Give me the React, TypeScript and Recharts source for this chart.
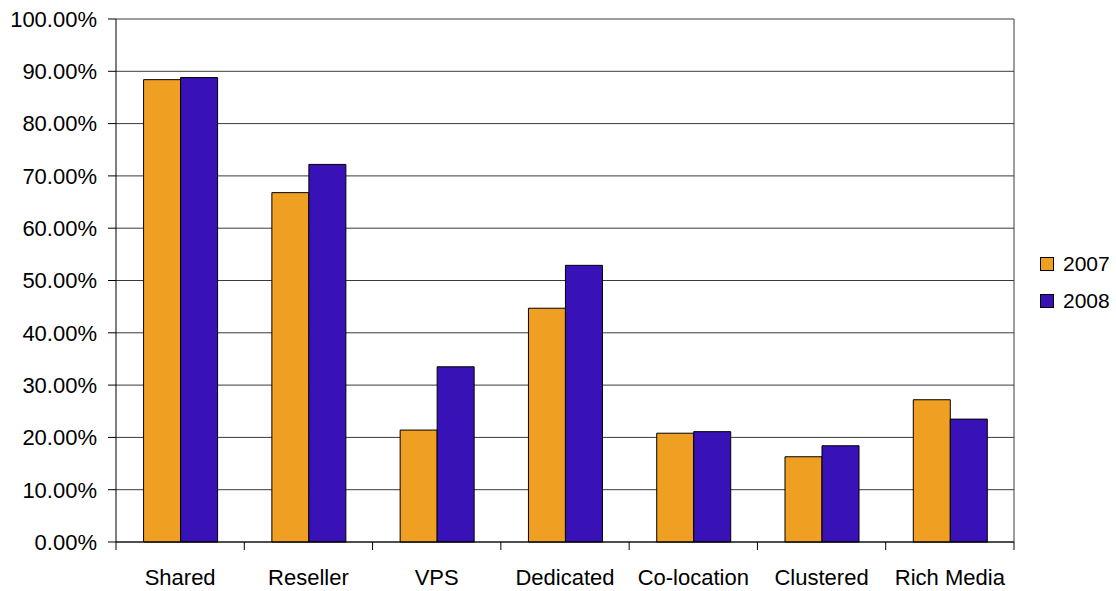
import { BarChart, Bar, XAxis, YAxis, CartesianGrid, Legend } from 'recharts'

const categories = ['Shared', 'Reseller', 'VPS', 'Dedicated', 'Co-location', 'Clustered', 'Rich Media']
const values2007 = [88.4, 66.8, 21.4, 44.7, 20.8, 16.3, 27.2]
const values2008 = [88.8, 72.2, 33.5, 52.9, 21.1, 18.4, 23.5]
const yTicks = [0, 10, 20, 30, 40, 50, 60, 70, 80, 90, 100]
const seriesNames = ['2007', '2008']

const ORANGE = '#EFA022'
const PURPLE = '#3812B6'
const FONT = 'Arial, "Liberation Sans", sans-serif'
const PLOT_WIDTH = 898

const chartData = categories.map((name, i) => ({
  name,
  y2007: values2007[i],
  y2008: values2008[i],
}))

// Excel-style category axis: tick marks sit on the band edges, labels in the middle
function CategoryTick(props: any) {
  const { x, y, payload, index, visibleTicksCount } = props
  const band = PLOT_WIDTH / categories.length
  const axisY = y - 8
  return (
    <g>
      <line x1={x - band / 2} x2={x - band / 2} y1={axisY} y2={axisY + 8} stroke="#000" />
      {index === visibleTicksCount - 1 && (
        <line x1={x + band / 2} x2={x + band / 2} y1={axisY} y2={axisY + 8} stroke="#000" />
      )}
      <text x={x} y={axisY + 43} textAnchor="middle" fill="#000" fontSize={22} fontFamily={FONT}>
        {payload.value}
      </text>
    </g>
  )
}

function LegendBox() {
  const colors = [ORANGE, PURPLE]
  return (
    <div style={{ fontFamily: FONT, fontSize: 21, color: '#000' }}>
      {seriesNames.map((n, i) => (
        <div key={n} style={{ display: 'flex', alignItems: 'center', height: 37 }}>
          <span
            style={{
              display: 'inline-block',
              width: 12,
              height: 12,
              background: colors[i],
              border: '1px solid #000',
              marginLeft: 26,
              marginRight: 9,
            }}
          />
          <span>{n}</span>
        </div>
      ))}
    </div>
  )
}

export default function App() {
  return (
    <div style={{ position: 'fixed', left: 0, top: 0, width: 1116, height: 591, background: '#fff' }}>
      <BarChart
        width={1116}
        height={591}
        data={chartData}
        margin={{ top: 19, right: 0, left: 0, bottom: 0 }}
        barCategoryGap="21.5%"
        barGap={0}
      >
        <CartesianGrid
          stroke="#3a3a3a"
          vertical
          verticalCoordinatesGenerator={({ offset }: any) => [offset.left + offset.width]}
        />
        <XAxis
          dataKey="name"
          height={49}
          axisLine={{ stroke: '#000' }}
          tickLine={false}
          tick={<CategoryTick />}
          interval={0}
        />
        <YAxis
          domain={[0, 100]}
          ticks={yTicks}
          width={116}
          axisLine={{ stroke: '#000' }}
          tickLine={{ stroke: '#000' }}
          tickSize={8}
          tickMargin={11}
          interval={0}
          tick={{ fill: '#000', fontSize: 22, fontFamily: FONT }}
          tickFormatter={(v: number) => `${v.toFixed(2)}%`}
        />
        <Legend
          layout="vertical"
          align="right"
          verticalAlign="top"
          content={<LegendBox />}
          wrapperStyle={{ left: 1014, top: 245, width: 102 }}
        />
        <Bar dataKey="y2007" name="2007" fill={ORANGE} stroke="#000" strokeWidth={1} isAnimationActive={false} />
        <Bar dataKey="y2008" name="2008" fill={PURPLE} stroke="#000" strokeWidth={1} isAnimationActive={false} />
      </BarChart>
    </div>
  )
}
